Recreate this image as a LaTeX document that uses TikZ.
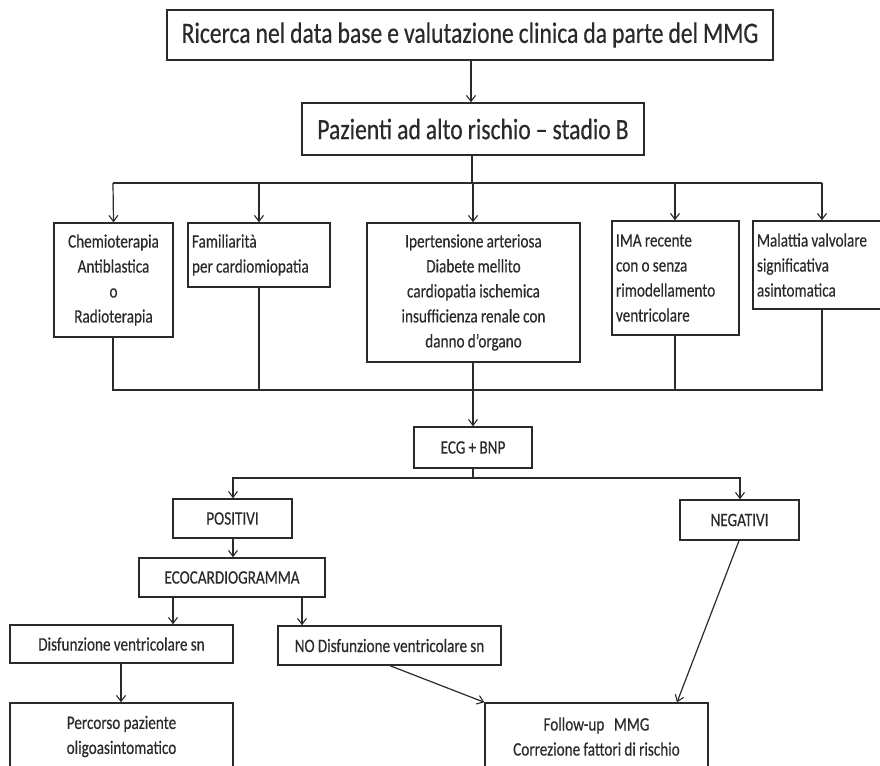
\documentclass[tikz,border=0pt]{standalone}
\usepackage{fontspec}
\setmainfont{Carlito}[FakeStretch=0.8, FakeBold=0.4]
\usetikzlibrary{arrows.meta}
\definecolor{ink}{HTML}{2A2A2A}
% tight word spacing for the condensed face
\newcommand{\tightsize}[2]{\fontsize{#1}{#2}\selectfont\fontdimen2\font=0.17em\relax}
\begin{document}
\begin{tikzpicture}[x=1pt,y=-1pt,
  box/.style={draw=ink, line width=1.4pt, inner sep=4pt, text=ink,
    minimum width=#1, align=center, font=\tightsize{19}{25}},
  lbox/.style={box=#1, text width=#1-8pt, align=flush left},
  big/.style={font=\tightsize{29.5}{32}},
  wire/.style={draw=ink, line width=1.2pt},
  arr/.style={wire, -{Straight Barb[length=6pt,width=9pt,line width=1.1pt]}}]
\useasboundingbox (0,0) rectangle (880,765);
\clip (0,0) rectangle (880,765);

% top of the pathway
\node[box=606, big, minimum height=50] (db) at (470,35)
  {Ricerca nel data base e valutazione clinica da parte del MMG};
\node[box=342, big, minimum height=52] (hr) at (473,129)
  {Pazienti ad alto rischio -- stadio B};

% risk categories
\node[box=119, minimum height=114] (chemo) at (113.5,280)
  {Chemioterapia\\Antiblastica\\o\\Radioterapia};
\node[lbox=142, minimum height=64] (fam) at (259,255)
  {Familiarità\\per cardiomiopatia};
\node[box=213, minimum height=139] (ipert) at (473.5,292.5)
  {Ipertensione arteriosa\\Diabete mellito\\cardiopatia ischemica\\insufficienza renale con\\danno d’organo};
\node[lbox=127, minimum height=114] (ima) at (675.5,278)
  {IMA recente\\con o senza\\rimodellamento\\ventricolare};
\node[lbox=140, minimum height=88] (valv) at (823,265)
  {Malattia valvolare\\significativa\\asintomatica};

% diagnostics
\node[box=118, minimum height=41] (ecg) at (473,447.5) {ECG + BNP};
\node[box=119, minimum height=39] (pos) at (232.5,518.5) {POSITIVI};
\node[box=119, minimum height=40] (neg) at (739.5,520) {NEGATIVI};
\node[box=186, minimum height=39] (eco) at (232,577.5) {ECOCARDIOGRAMMA};
\node[box=223, minimum height=38] (dis) at (121.5,644) {Disfunzione ventricolare sn};
\node[box=223, minimum height=39] (nodis) at (389.5,645.5) {NO Disfunzione ventricolare sn};
\node[box=223, minimum height=67] (perc) at (121.5,736.5)
  {Percorso paziente\\oligoasintomatico};
\node[box=223, minimum height=67] (fu) at (596.5,736.5)
  {Follow-up\hspace{0.5em}MMG\\Correzione fattori di rischio};

% bus coordinates
\coordinate (b1) at (472,183);
\coordinate (b2) at (473,390);
\coordinate (b3) at (473,478);

\draw[arr] (db.south -| 471,0) -- (hr.north -| 471,0);
\draw[wire] (hr.south -| b1) -- (b1);
\draw[wire] (113,183) -- (822,183);
\draw[arr] (113,183) -- (chemo.north);
\draw[arr] (259,183) -- (fam.north);
\draw[arr] (473,183) -- (ipert.north -| 473,0);
\draw[arr] (675,183) -- (ima.north -| 675,0);
\draw[arr] (822,183) -- (valv.north -| 822,0);

\draw[wire] (chemo.south -| 113,0) |- (b2);
\draw[wire] (fam.south) -- (fam.south |- b2);
\draw[wire] (ipert.south -| b2) -- (b2);
\draw[wire] (ima.south -| 675,0) -- (675,390);
\draw[wire] (valv.south -| 822,0) |- (b2);
\draw[arr] (b2) -- (ecg.north -| b2);

\draw[wire] (ecg.south -| b3) -- (b3);
\draw[arr] (b3) -| (pos.north -| 233,0);
\draw[arr] (b3) -| (neg.north -| 740,0);
\draw[arr] (pos.south -| 233,0) -- (eco.north -| 233,0);
\draw[arr] (eco.south -| 173,0) -- (dis.north -| 173,0);
\draw[arr] (eco.south -| 302,0) -- (nodis.north -| 302,0);
\draw[arr] (dis.south -| 121,0) -- (perc.north -| 121,0);
\draw[arr] (nodis.south -| 390,0) -- (fu.north west);
\draw[arr] (neg.south -| 739,0) -- (fu.north -| 677,0);
\end{tikzpicture}
\end{document}
